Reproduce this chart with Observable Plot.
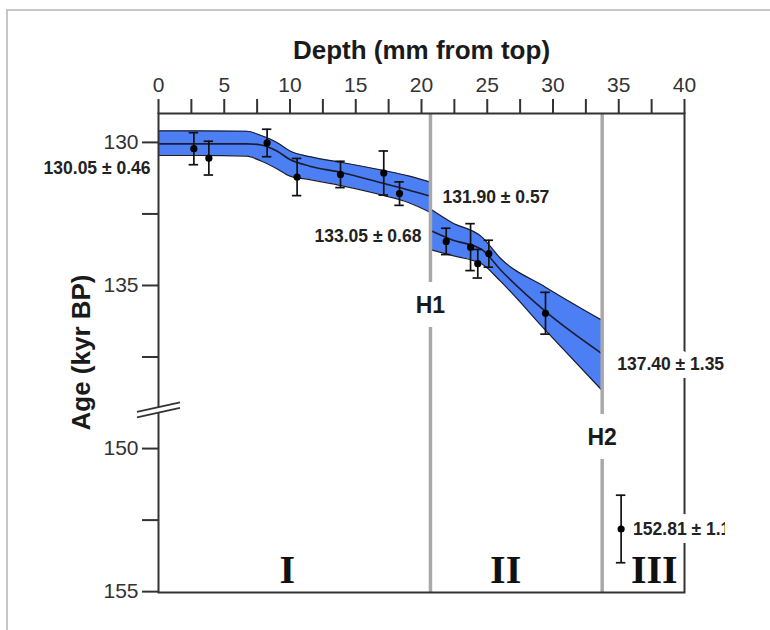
<!DOCTYPE html>
<html><head><meta charset="utf-8">
<script src="https://cdn.jsdelivr.net/npm/d3@7"></script>
<script src="https://cdn.jsdelivr.net/npm/@observablehq/plot@0.6"></script>
<style>
html,body{margin:0;padding:0;background:#fff;}
#stage{position:relative;width:770px;height:630px;overflow:hidden;background:#fff;}
#chart{position:absolute;left:0;top:0;width:725px;height:630px;overflow:hidden;}
#border{position:absolute;left:6px;top:9px;width:900px;height:900px;border-left:2.5px solid #c6c6c6;border-top:2.5px solid #c6c6c6;pointer-events:none;}
</style></head>
<body><div id="stage"><div id="chart"></div><div id="border"></div></div>
<script>
// ---- data ----
const xTitle = "Depth (mm from top)";
const yTitle = "Age (kyr BP)";
const depthTicks = [0, 2.5, 5, 7.5, 10, 12.5, 15, 17.5, 20, 22.5, 25, 27.5, 30, 32.5, 35, 37.5, 40];
const ageTicks = [130, 132.5, 135, 137.5, 150, 152.5, 155];
const ageTickLabels = ["130", "", "135", "", "150", "", "155"];

// age-model band, zone I
const seg1Depth = [0, 3, 6.7, 7.8, 9.0, 10.0, 11.5, 13.8, 17.1, 19.0, 20.68];
const seg1Young = [129.60, 129.60, 129.61, 129.76, 130.0, 130.3, 130.5, 130.69, 130.98, 131.17, 131.39];
const seg1Mid   = [130.05, 130.05, 130.05, 130.09, 130.3, 130.6, 130.83, 131.04, 131.43, 131.66, 131.88];
const seg1Old   = [130.45, 130.45, 130.48, 130.65, 130.92, 131.18, 131.3, 131.5, 131.85, 132.1, 132.45];
// age-model band, zone II
const seg2Depth = [20.68, 22.3, 24.6, 26.0, 29.4, 33.74];
const seg2Young = [132.33, 132.8, 133.31, 134.05, 135.05, 136.22];
const seg2Mid   = [133.08, 133.4, 133.75, 134.45, 135.9, 137.39];
const seg2Old   = [133.75, 133.95, 134.25, 134.85, 136.55, 138.67];

// dated samples
const ptDepth = [2.69, 3.83, 8.26, 10.54, 13.84, 17.13, 18.33, 21.88, 23.73, 24.28, 25.12, 29.43, 35.18];
const ptAge   = [130.22, 130.55, 130.02, 131.21, 131.12, 131.07, 131.79, 133.46, 133.66, 134.24, 133.89, 135.97, 152.81];
const ptErr   = [0.56, 0.59, 0.48, 0.65, 0.46, 0.77, 0.41, 0.46, 0.82, 0.5, 0.47, 0.73, 1.18];

// hiatuses
const hiatusNames = ["H1", "H2"];
const hiatusDepth = [20.68, 33.74];

// boundary ages
const ageLabelText  = ["130.05 ± 0.46", "131.90 ± 0.57", "133.05 ± 0.68", "137.40 ± 1.35", "152.81 ± 1.18"];
const ageLabelDepth = [0, 20.68, 20.68, 33.74, 35.18];
const ageLabelAge   = [130.05, 131.88, 133.08, 137.39, 152.81];

// growth zones
const zoneNames = ["I", "II", "III"];
const zoneDepth = [9.8, 26.4, 37.7];

// ---- broken axis: ages beyond the break are shifted up ----
const BREAK_SHIFT = 9.3;
const disp = a => a >= 145 ? a - BREAK_SHIFT : a;
const BREAK_AT = 139.35;  // display position of the break symbol
const hLabelY = [135.7, 140.3];

const seg = (D, Y, M, O) => D.map((d, i) => ({depth: d, young: Y[i], mid: M[i], old: O[i]}));
const band1 = seg(seg1Depth, seg1Young, seg1Mid, seg1Old);
const band2 = seg(seg2Depth, seg2Young, seg2Mid, seg2Old);
const pts = ptDepth.map((d, i) => ({depth: d, age: ptAge[i], err: ptErr[i]}));
const labels = ageLabelText.map((t, i) => ({text: t, depth: ageLabelDepth[i], age: ageLabelAge[i]}));
const labLayout = [
  {dx: -8, dy: 25, anchor: "end"},
  {dx: 12, dy: 1, anchor: "start"},
  {dx: -9, dy: 6, anchor: "end"},
  {dx: 15, dy: 11, anchor: "start"},
  {dx: 12, dy: 0, anchor: "start"}
];
const tickLabel = new Map(ageTicks.map((t, i) => [disp(t), ageTickLabels[i]]));

const BLUE = "#4d7ff4";
const DARK = "#1c1c30";
const capHalf = 0.36;

const bandMarks = b => [
  Plot.areaY(b, {x: "depth", y1: d => disp(d.young), y2: d => disp(d.old), fill: BLUE, curve: "monotone-x"}),
  Plot.lineY(b, {x: "depth", y: d => disp(d.young), stroke: DARK, strokeWidth: 1.2, curve: "monotone-x"}),
  Plot.lineY(b, {x: "depth", y: d => disp(d.old), stroke: DARK, strokeWidth: 1.2, curve: "monotone-x"}),
  Plot.lineY(b, {x: "depth", y: d => disp(d.mid), stroke: DARK, strokeWidth: 1.6, curve: "monotone-x"})
];

const plot = Plot.plot({
  width: 725, height: 630,
  marginTop: 113, marginBottom: 38, marginLeft: 158, marginRight: 41,
  style: {fontFamily: "'Liberation Sans', Arial, sans-serif", background: "transparent", color: "#222"},
  x: {domain: [0, 40]},
  y: {domain: [128.99, 145.73], reverse: true},
  marks: [
    ...bandMarks(band1),
    ...bandMarks(band2),
    Plot.ruleX(hiatusDepth, {x: d => d, stroke: "#a9a9a9", strokeWidth: 3.5}),
    Plot.frame({stroke: "#333", strokeWidth: 2}),
    Plot.axisX({anchor: "top", ticks: depthTicks, tickFormat: d => d % 5 === 0 ? String(d) : "",
      tickSize: 15, tickPadding: 7, fontSize: 21, color: "#333", strokeWidth: 2, label: null}),
    Plot.axisY({anchor: "left", ticks: ageTicks.map(disp), tickFormat: d => tickLabel.get(d),
      tickSize: 16, tickPadding: 4, fontSize: 21, color: "#333", strokeWidth: 2, label: null}),
    // error bars
    Plot.ruleX(pts, {x: "depth", y1: d => disp(d.age - d.err), y2: d => disp(d.age + d.err), stroke: "#111", strokeWidth: 1.7}),
    Plot.ruleY(pts, {y: d => disp(d.age - d.err), x1: d => d.depth - capHalf, x2: d => d.depth + capHalf, stroke: "#111", strokeWidth: 1.7}),
    Plot.ruleY(pts, {y: d => disp(d.age + d.err), x1: d => d.depth - capHalf, x2: d => d.depth + capHalf, stroke: "#111", strokeWidth: 1.7}),
    Plot.dot(pts, {x: "depth", y: d => disp(d.age), r: 3.6, fill: "#000"}),
    // boundary age labels
    ...labels.map((l, i) => Plot.text([l], {
      x: "depth", y: d => disp(d.age), text: "text",
      dx: labLayout[i].dx, dy: labLayout[i].dy, textAnchor: labLayout[i].anchor,
      fontSize: 17.5, fontWeight: "bold", fill: "#222",
      stroke: i >= 3 ? "white" : null, strokeWidth: i >= 3 ? 16 : null
    })),
    // hiatus labels
    Plot.text(hiatusNames, {x: (d, i) => hiatusDepth[i], y: (d, i) => hLabelY[i], text: d => d,
      fontSize: 23, fontWeight: "bold", fill: "#1a1a1a", stroke: "white", strokeWidth: 28}),
    // zone numerals
    Plot.text(zoneNames, {x: (d, i) => zoneDepth[i], frameAnchor: "bottom", lineAnchor: "bottom", dy: -10,
      text: d => d, fontSize: 40, fontWeight: "bold", fontFamily: "'Liberation Serif', 'Times New Roman', serif", fill: "#111"}),
    // axis titles
    Plot.text([xTitle], {frameAnchor: "top", lineAnchor: "middle", dy: -63, text: d => d,
      fontSize: 26, fontWeight: "bold", fill: "#1a1a1a"})
  ]
});

document.getElementById("chart").appendChild(plot);

// y title and axis break symbol, placed via the plot's scales
const svg = d3.select(plot);
const xs = plot.scale("x"), ys = plot.scale("y");
const x0 = xs.apply(0);
const yMid = (ys.apply(128.99) + ys.apply(145.73)) / 2;
svg.append("text")
  .attr("transform", `translate(${x0 - 77},${yMid}) rotate(-90)`)
  .attr("text-anchor", "middle").attr("dominant-baseline", "central")
  .attr("font-size", 26).attr("font-weight", "bold").attr("fill", "#1a1a1a")
  .attr("font-family", "'Liberation Sans', Arial, sans-serif")
  .text(yTitle);
const by = ys.apply(BREAK_AT);
const brk = svg.append("g");
brk.append("polygon")
  .attr("points", `${x0 - 21},${by + 2.5} ${x0 + 22},${by - 7} ${x0 + 22},${by - 1.5} ${x0 - 21},${by + 8}`)
  .attr("fill", "white");
brk.append("line").attr("x1", x0 - 21).attr("y1", by + 2.5).attr("x2", x0 + 22).attr("y2", by - 7)
  .attr("stroke", "#333").attr("stroke-width", 1.8);
brk.append("line").attr("x1", x0 - 21).attr("y1", by + 8).attr("x2", x0 + 22).attr("y2", by - 1.5)
  .attr("stroke", "#333").attr("stroke-width", 1.8);
</script>
</body></html>
